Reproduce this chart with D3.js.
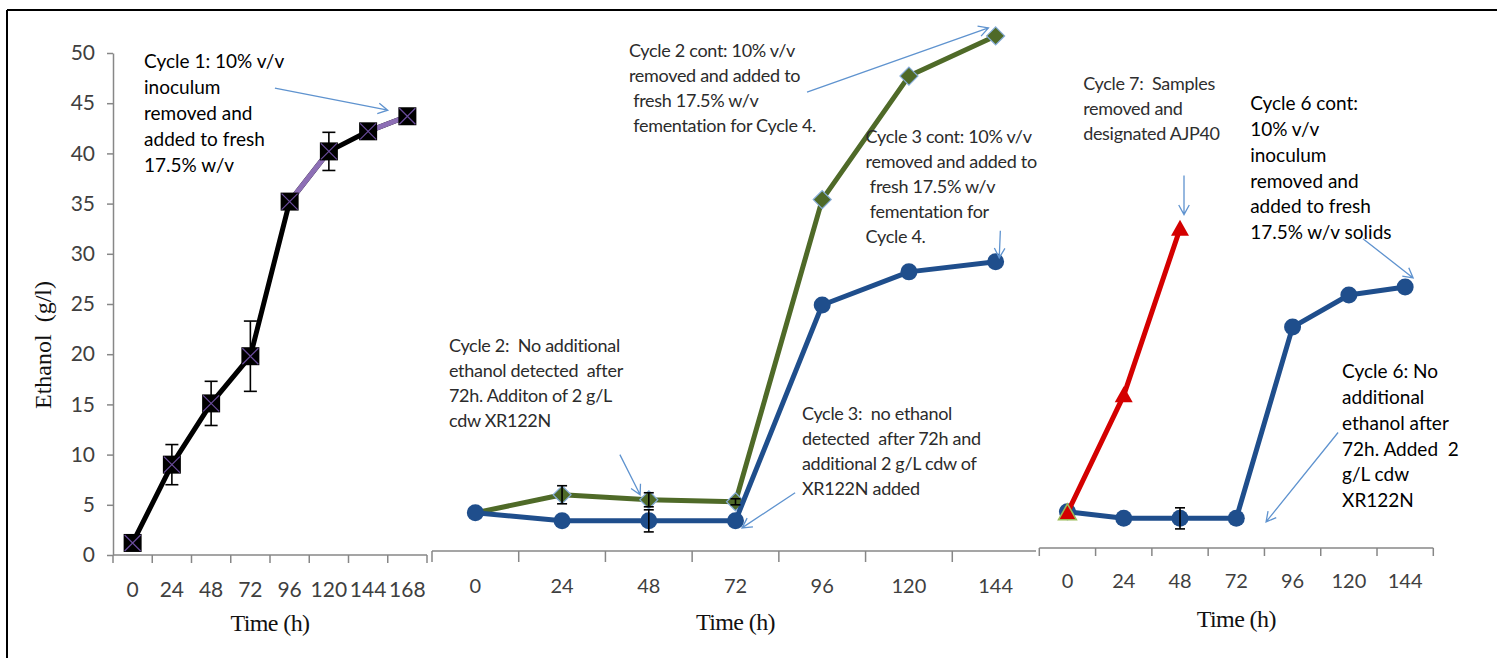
<!DOCTYPE html>
<html>
<head>
<meta charset="utf-8">
<script src="https://cdn.jsdelivr.net/npm/d3@7"></script>
<style>
  body { margin: 0; background: #fff; }
  svg { display: block; }
  text { white-space: pre; }
</style>
</head>
<body>
<svg id="chart" width="1497" height="658"></svg>
<script>
// ---- Ethanol concentration (g/l) over time for successive fermentation cycles ----
const yTicks = [0, 5, 10, 15, 20, 25, 30, 35, 40, 45, 50];

// Cycle 1
const hoursCycle1 = [0, 24, 48, 72, 96, 120, 144, 168];
const cycle1Ethanol = [1.2, 9.0, 15.1, 19.8, 35.2, 40.2, 42.2, 43.7];
const cycle1Error = [0, 2.0, 2.2, 3.5, 0, 1.9, 0, 0];

// Cycles 2 and 3
const hoursCycle23 = [0, 24, 48, 72, 96, 120, 144];
const cycle2Ethanol = [4.2, 6.0, 5.5, 5.3, 35.4, 47.7, 51.7];
const cycle2Error = [0, 0.9, 0.7, 0.3, 0, 0, 0];
const cycle3Ethanol = [4.2, 3.4, 3.4, 3.4, 24.9, 28.2, 29.2];
const cycle3Error = [0, 0, 1.1, 0, 0, 0, 0];

// Cycles 6 and 7
const hoursCycle67 = [0, 24, 48, 72, 96, 120, 144];
const cycle6Ethanol = [4.3, 3.65, 3.65, 3.65, 22.7, 25.9, 26.7];
const cycle6Error = [0, 0, 1.05, 0, 0, 0, 0];
const hoursCycle7 = [0, 24, 48];
const cycle7Ethanol = [4.2, 15.9, 32.5];

// segments of the cycle 1 line drawn in purple (index of the segment start)
const purpleSegments = [4, 6];

// ---- styling ----
const C = {
  axis: "#878787", tick: "#3f3f3f", black: "#000", purple: "#8d6fb5", xPurple: "#6a4c9c",
  blue: "#1f4e8c", green: "#4f6a28", greenEdge: "#86acd8", red: "#d40000",
  arrow: "#5f93cf", note: "#000", noteSoft: "#2b2b2b"
};
const sans = "Lato, 'Open Sans', sans-serif";
const serif = "'Liberation Serif', 'DejaVu Serif', serif";

const svg = d3.select("#chart");

// outer frame (top and left edges)
svg.append("line").attr("x1", 7).attr("x2", 1497).attr("y1", 10).attr("y2", 10)
  .attr("stroke", "#000").attr("stroke-width", 2);
svg.append("line").attr("x1", 7).attr("x2", 7).attr("y1", 10).attr("y2", 658)
  .attr("stroke", "#000").attr("stroke-width", 2);

// shared ethanol scale
const y = d3.scaleLinear().domain([0, 50]).range([555, 53]);

// y axis on the first panel
const yAxis = svg.append("g").attr("transform", "translate(113,0)")
  .call(d3.axisLeft(y).tickValues(yTicks).tickSize(6).tickPadding(12).tickSizeOuter(0));
yAxis.select(".domain").attr("stroke", C.axis).attr("stroke-width", 1.5);
yAxis.selectAll(".tick line").attr("stroke", C.axis).attr("stroke-width", 1.5);
yAxis.selectAll("text").attr("font-family", sans).attr("font-size", 21).attr("fill", C.tick);

svg.append("text")
  .attr("transform", "translate(51,345) rotate(-90)")
  .attr("text-anchor", "middle").attr("font-family", serif).attr("font-size", 24)
  .attr("fill", "#111").text("Ethanol  (g/l)");

// one time axis per panel
function makePanel(p) {
  const x = d3.scaleBand().domain(p.hours).range([p.x0, p.x1]).paddingInner(0).paddingOuter(0);
  const bw = x.bandwidth();
  const cx = h => x(h) + bw / 2;
  // continuous hour scale for placing notes
  const hx = d3.scaleLinear().domain([0, 24]).range([cx(p.hours[0]), cx(p.hours[1])]);

  const g = svg.append("g");
  g.append("line").attr("x1", p.x0).attr("x2", p.lineEnd ?? p.x1)
    .attr("y1", p.axisY).attr("y2", p.axisY)
    .attr("stroke", C.axis).attr("stroke-width", 1.5);
  const edges = p.hours.map(h => x(h));
  if (p.endTick) edges.push(p.x1);
  g.selectAll("line.edge").data(edges).join("line").attr("class", "edge")
    .attr("x1", d => d).attr("x2", d => d)
    .attr("y1", p.axisY).attr("y2", p.axisY + p.tickLen)
    .attr("stroke", C.axis).attr("stroke-width", 1.5);

  const ax = svg.append("g").attr("transform", `translate(0,${p.axisY})`)
    .call(d3.axisBottom(x).tickSize(0).tickSizeOuter(0));
  ax.select(".domain").remove();
  ax.selectAll("text").attr("y", p.labelY - p.axisY).attr("dy", null)
    .attr("font-family", sans).attr("font-size", p.labelSize).attr("fill", C.tick);

  svg.append("text").attr("x", (p.x0 + p.x1) / 2).attr("y", p.titleY)
    .attr("text-anchor", "middle").attr("font-family", serif).attr("font-size", 24)
    .attr("letter-spacing", -0.6).attr("fill", "#111").text("Time (h)");

  return { x, cx, hx, bw };
}

const P1 = makePanel({ hours: hoursCycle1, x0: 113, x1: 427, axisY: 555, tickLen: 8,
  labelY: 597, labelSize: 21, endTick: true, titleY: 631 });
const P2 = makePanel({ hours: hoursCycle23, x0: 432, x1: 1039, lineEnd: 1036, axisY: 551, tickLen: 11,
  labelY: 593, labelSize: 20, endTick: false, titleY: 630 });
const P3 = makePanel({ hours: hoursCycle67, x0: 1039.3, x1: 1433.3, axisY: 548, tickLen: 8,
  labelY: 588, labelSize: 20, endTick: true, titleY: 627 });

// ---- series helpers ----
function series(panel, hours, values) {
  return hours.map((h, i) => ({ x: panel.cx(h), y: y(values[i]), v: values[i] }));
}
function drawLine(pts, color, width) {
  svg.append("path").datum(pts)
    .attr("d", d3.line().x(d => d.x).y(d => d.y))
    .attr("fill", "none").attr("stroke", color).attr("stroke-width", width)
    .attr("stroke-linejoin", "round");
}
function drawErrors(panel, hours, values, errs, cap) {
  const d = hours.map((h, i) => ({ x: panel.cx(h), v: values[i], e: errs[i] })).filter(d => d.e > 0);
  const g = svg.append("g").attr("stroke", "#000").attr("stroke-width", 1.6);
  d.forEach(o => {
    g.append("line").attr("x1", o.x).attr("x2", o.x).attr("y1", y(o.v + o.e)).attr("y2", y(o.v - o.e));
    [o.v + o.e, o.v - o.e].forEach(v =>
      g.append("line").attr("x1", o.x - cap / 2).attr("x2", o.x + cap / 2).attr("y1", y(v)).attr("y2", y(v)));
  });
}

// ---- cycle 1 ----
const s1 = series(P1, hoursCycle1, cycle1Ethanol);
drawLine(s1, C.black, 5);
purpleSegments.forEach(i => drawLine([s1[i], s1[i + 1]], C.purple, 5));
drawErrors(P1, hoursCycle1, cycle1Ethanol, cycle1Error, 13);
const sq = svg.append("g").selectAll("g").data(s1).join("g")
  .attr("transform", d => `translate(${d.x},${d.y})`);
sq.append("rect").attr("x", -9).attr("y", -9).attr("width", 18).attr("height", 18).attr("fill", "#000");
sq.append("path").attr("d", "M-8,-8L8,8M-8,8L8,-8").attr("stroke", C.xPurple).attr("stroke-width", 1.2);

// ---- cycles 2 and 3 ----
const s2 = series(P2, hoursCycle23, cycle2Ethanol);
const s3 = series(P2, hoursCycle23, cycle3Ethanol);
drawLine(s2, C.green, 5);
svg.append("g").selectAll("path").data(s2.slice(1)).join("path")
  .attr("transform", d => `translate(${d.x},${d.y})`)
  .attr("d", "M0,-9L9,0L0,9L-9,0Z")
  .attr("fill", C.green).attr("stroke", C.greenEdge).attr("stroke-width", 1.2);
drawLine(s3, C.blue, 5);
svg.append("g").selectAll("circle").data(s3).join("circle")
  .attr("cx", d => d.x).attr("cy", d => d.y).attr("r", 8.5).attr("fill", C.blue);
drawErrors(P2, hoursCycle23, cycle2Ethanol, cycle2Error, 10);
drawErrors(P2, hoursCycle23, cycle3Ethanol, cycle3Error, 10);

// ---- cycles 6 and 7 ----
const s6 = series(P3, hoursCycle67, cycle6Ethanol);
drawLine(s6, C.blue, 5);
svg.append("g").selectAll("circle").data(s6).join("circle")
  .attr("cx", d => d.x).attr("cy", d => d.y).attr("r", 8.5).attr("fill", C.blue);
drawErrors(P3, hoursCycle67, cycle6Ethanol, cycle6Error, 10);
const s7 = series(P3, hoursCycle7, cycle7Ethanol);
drawLine(s7, C.red, 5);
svg.append("g").selectAll("path").data(s7).join("path")
  .attr("transform", d => `translate(${d.x},${d.y})`)
  .attr("d", "M0,-9L9,7L-9,7Z")
  .attr("fill", C.red)
  .attr("stroke", (d, i) => i === 0 ? "#9bbb59" : "none").attr("stroke-width", 1.5);

// ---- notes ----
function note(panel, h, v, lines, o) {
  const t = svg.append("text")
    .attr("font-family", sans).attr("font-size", o.size).attr("fill", o.color)
    .attr("letter-spacing", o.ls || 0).attr("word-spacing", o.ws || 0);
  lines.forEach((s, i) => t.append("tspan").attr("x", panel.hx(h)).attr("y", y(v) + i * o.lh).text(s));
}
function arrow(panel, from, to) {
  const x1 = panel.hx(from[0]), y1 = y(from[1]), x2 = panel.hx(to[0]), y2 = y(to[1]);
  const a = Math.atan2(y2 - y1, x2 - x1), L = 11, w = 0.5;
  const p = d3.path();
  p.moveTo(x1, y1); p.lineTo(x2, y2);
  p.moveTo(x2 - L * Math.cos(a - w), y2 - L * Math.sin(a - w)); p.lineTo(x2, y2);
  p.lineTo(x2 - L * Math.cos(a + w), y2 - L * Math.sin(a + w));
  svg.append("path").attr("d", p.toString()).attr("fill", "none")
    .attr("stroke", C.arrow).attr("stroke-width", 1.3);
}

const crisp = { size: 19, color: C.note, lh: 26 };
const soft = { size: 18, color: C.noteSoft, lh: 25, ls: -0.3 };

note(P1, 7, 48.5, ["Cycle 1: 10% v/v", "inoculum", "removed and", "added to fresh", "17.5% w/v"], crisp);
arrow(P1, [87, 46.5], [156, 44.3]);

note(P2, 42.5, 49.6, ["Cycle 2 cont: 10% v/v", "removed and added to", " fresh 17.5% w/v", " fementation for Cycle 4."], soft);
arrow(P2, [91.8, 46.1], [142, 52.5]);
note(P2, 108, 41.0, ["Cycle 3 cont: 10% v/v", "removed and added to", " fresh 17.5% w/v", " fementation for", "Cycle 4."], soft);
arrow(P2, [145.3, 32.3], [145.0, 29.6]);
note(P2, -7.3, 20.2, ["Cycle 2:  No additional", "ethanol detected  after", "72h. Additon of 2 g/L", "cdw XR122N"], soft);
arrow(P2, [40.0, 10.0], [45.6, 6.0]);
note(P2, 90.4, 13.4, ["Cycle 3:  no ethanol", "detected  after 72h and", "additional 2 g/L cdw of", "XR122N added"], soft);
arrow(P2, [88.5, 6.2], [73.8, 2.7]);

note(P3, 6.7, 46.3, ["Cycle 7:  Samples", "removed and", "designated AJP40"], { size: 18, color: "#2e2e2e", lh: 25, ls: -0.3 });
arrow(P3, [49.7, 37.8], [49.7, 33.9]);
note(P3, 77.9, 44.3, ["Cycle 6 cont:", "10% v/v", "inoculum", "removed and", "added to fresh", "17.5% w/v solids"], { size: 19, color: C.note, lh: 25.8 });
arrow(P3, [126.0, 31.5], [147.4, 27.6]);
note(P3, 117.1, 17.6, ["Cycle 6: No", "additional", "ethanol after", "72h. Added  2", "g/L cdw", "XR122N"], { size: 19, color: C.note, lh: 25.8 });
arrow(P3, [115.4, 12.2], [84.7, 3.3]);
</script>
</body>
</html>
